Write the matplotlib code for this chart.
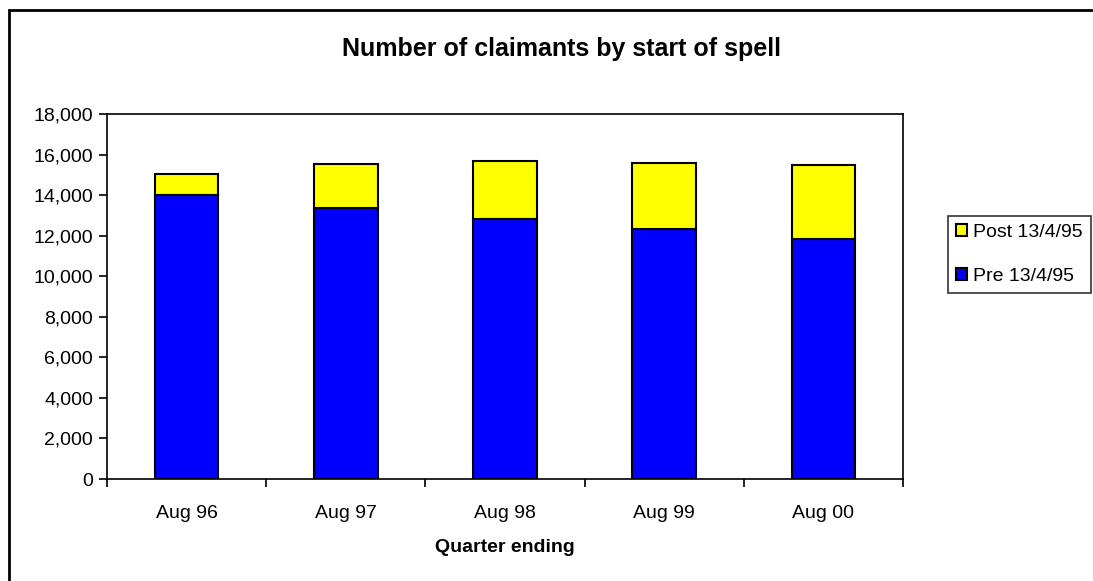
import numpy as np
import matplotlib.pyplot as plt
from matplotlib.patches import Rectangle
from matplotlib.ticker import FuncFormatter, FixedLocator

plt.rcParams['font.family'] = ['Liberation Sans', 'DejaVu Sans']

quarters = ['Aug 96', 'Aug 97', 'Aug 98', 'Aug 99', 'Aug 00']
pre = [14000, 13380, 12810, 12310, 11820]
post = [1050, 2170, 2860, 3260, 3650]

W, H = 1093, 581
fig = plt.figure(figsize=(W / 100, H / 100), dpi=100)
ax = fig.add_axes([107 / W, 1 - 479 / H, (903 - 107) / W, (479 - 114) / H])

x = np.arange(len(quarters))
b1 = ax.bar(x, pre, width=0.4, color='#0000FF', edgecolor='black', linewidth=1.5, label='Pre 13/4/95')
b2 = ax.bar(x, post, width=0.4, bottom=pre, color='#FFFF00', edgecolor='black', linewidth=1.5,
            label='Post 13/4/95')

ax.set_xlim(-0.5, len(quarters) - 0.5)
ax.set_ylim(0, 18000)
ax.set_yticks(np.arange(0, 18001, 2000))
ax.yaxis.set_major_formatter(FuncFormatter(lambda v, p: f'{int(v):,}'))
ax.set_xticks(x)
ax.set_xticklabels(quarters)
ax.xaxis.set_minor_locator(FixedLocator(np.arange(-0.5, len(quarters), 1.0)))
ax.tick_params(axis='x', which='major', length=0, pad=19, labelsize=14)
ax.tick_params(axis='x', which='minor', length=6, direction='out', width=1.2)
ax.tick_params(axis='y', length=6, direction='out', width=1.2, labelsize=14, pad=4)
for s in ax.spines.values():
    s.set_linewidth(1.2)
ax.set_xlabel('Quarter ending', fontsize=14, fontweight='bold', labelpad=12)

fig.text(561 / W, 1 - 49 / H, 'Number of claimants by start of spell',
         ha='center', va='center', fontsize=18, fontweight='bold')

leg = fig.legend([b2, b1], ['Post 13/4/95', 'Pre 13/4/95'], loc='center left',
                 bbox_to_anchor=(948 / W, 1 - 254.5 / H), fontsize=14, frameon=True,
                 fancybox=False, handlelength=0.6, handleheight=0.6, handletextpad=0.3,
                 labelspacing=1.4, borderpad=0.4, borderaxespad=0)
leg.get_frame().set_edgecolor('black')
leg.get_frame().set_linewidth(1.2)

fig.patches.append(Rectangle((9 / W, -0.1), 1.2, (H - 10) / H + 0.1, transform=fig.transFigure,
                             fill=False, edgecolor='black', linewidth=2))

fig.savefig('out.png', dpi=100)
